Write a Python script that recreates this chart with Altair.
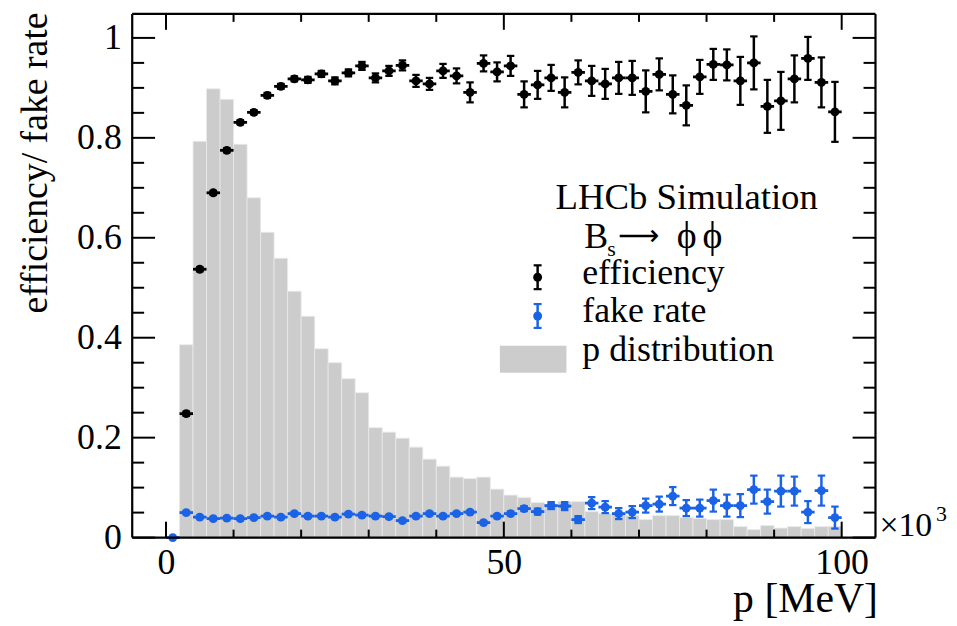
import altair as alt
import pandas as pd

# ---------------- data ----------------
bin_lo = list(range(2, 100, 2))          # histogram bin lower edges (x10^3 MeV), width 2
p_hist = [0.386, 0.793, 0.898, 0.877, 0.787, 0.680, 0.611, 0.559, 0.493, 0.443,
          0.378, 0.350, 0.318, 0.290, 0.220, 0.211, 0.199, 0.181, 0.157, 0.143,
          0.121, 0.118, 0.121, 0.097, 0.085, 0.080, 0.070, 0.065, 0.072, 0.072,
          0.052, 0.048, 0.046, 0.044, 0.036, 0.044, 0.044, 0.040, 0.038, 0.036,
          0.036, 0.022, 0.016, 0.024, 0.019, 0.022, 0.018, 0.022, 0.022]

eff_p = list(range(3, 100, 2))
eff = [0.248, 0.537, 0.690, 0.775, 0.831, 0.851, 0.885, 0.903, 0.918, 0.916,
       0.928, 0.914, 0.930, 0.944, 0.920, 0.934, 0.945, 0.914, 0.908, 0.934,
       0.924, 0.891, 0.949, 0.932, 0.944, 0.887, 0.906, 0.920, 0.891, 0.931,
       0.914, 0.908, 0.920, 0.920, 0.893, 0.927, 0.887, 0.865, 0.922, 0.947,
       0.946, 0.914, 0.950, 0.863, 0.874, 0.918, 0.959, 0.911, 0.852]
eff_err = [0.004, 0.004, 0.004, 0.004, 0.004, 0.004, 0.005, 0.005, 0.005, 0.006,
           0.006, 0.007, 0.007, 0.008, 0.009, 0.010, 0.010, 0.012, 0.012, 0.014,
           0.015, 0.020, 0.016, 0.019, 0.020, 0.026, 0.028, 0.026, 0.030, 0.024,
           0.030, 0.030, 0.032, 0.034, 0.042, 0.032, 0.038, 0.040, 0.034, 0.031,
           0.031, 0.048, 0.053, 0.053, 0.058, 0.047, 0.043, 0.050, 0.060]

fake_p = list(range(1, 100, 2))
fake = [0.0, 0.050, 0.041, 0.038, 0.039, 0.038, 0.040, 0.043, 0.041, 0.048,
        0.043, 0.043, 0.041, 0.047, 0.045, 0.043, 0.042, 0.034, 0.043, 0.048,
        0.043, 0.048, 0.051, 0.030, 0.043, 0.048, 0.058, 0.052, 0.064, 0.063,
        0.036, 0.069, 0.061, 0.048, 0.051, 0.064, 0.067, 0.083, 0.059, 0.059,
        0.074, 0.064, 0.064, 0.096, 0.072, 0.093, 0.093, 0.051, 0.094, 0.040]
fake_err = [0.0, 0.003, 0.003, 0.003, 0.003, 0.003, 0.003, 0.003, 0.003, 0.003,
            0.003, 0.003, 0.003, 0.003, 0.003, 0.003, 0.003, 0.003, 0.003, 0.003,
            0.003, 0.003, 0.003, 0.003, 0.003, 0.004, 0.005, 0.006, 0.007, 0.008,
            0.007, 0.012, 0.012, 0.011, 0.012, 0.014, 0.015, 0.018, 0.016, 0.017,
            0.022, 0.022, 0.023, 0.028, 0.024, 0.031, 0.029, 0.022, 0.030, 0.022]

x_major = [0, 50, 100]
x_minor = [10, 20, 30, 40, 60, 70, 80, 90]
y_major = [0, 0.2, 0.4, 0.6, 0.8, 1.0]
y_minor = [0.05, 0.1, 0.15, 0.25, 0.3, 0.35, 0.45, 0.5, 0.55, 0.65, 0.7, 0.75,
           0.85, 0.9, 0.95]

# ---------------- styling ----------------
W, H = 748, 527
FONT = "Times New Roman, Liberation Serif, DejaVu Serif, serif"
BLUE = "#1a62e6"
GREY = "#cccccc"
HALF = 1.0   # half bin width
CAP = 0.55   # cap half width (data units)
DOT = 80

xs = alt.Scale(domain=[-5, 105], nice=False, zero=False)
ys = alt.Scale(domain=[0, 1.048], nice=False, zero=False)

x_axis = alt.Axis(values=x_major, ticks=False, tickSize=0, domain=False, grid=False,
                  labelFont=FONT, labelFontSize=36, labelColor="black", labelPadding=8,
                  labelFlush=False, labelOverlap=False, format="d",
                  title="p [MeV]", titleFont=FONT, titleFontSize=42,
                  titleFontWeight="normal", titleColor="black", titleAnchor="end",
                  titleAlign="right", titleBaseline="alphabetic", titleX=W + 2, titleY=74)
y_axis = alt.Axis(values=y_major, ticks=False, tickSize=0, domain=False, grid=False,
                  labelFont=FONT, labelFontSize=36, labelColor="black", labelPadding=11,
                  labelFlush=False, labelOverlap=False, format="~g",
                  title="efficiency/ fake rate", titleFont=FONT, titleFontSize=38,
                  titleFontWeight="normal", titleColor="black", titleAnchor="end",
                  titleAngle=-90, titleAlign="right", titleBaseline="alphabetic",
                  titleX=-86, titleY=-2)


def X(f):
    return alt.X(f, type="quantitative", scale=xs, axis=x_axis)


def Y(f):
    return alt.Y(f, type="quantitative", scale=ys, axis=y_axis)


hist_df = pd.DataFrame({"lo": bin_lo, "h": p_hist})
hist_df["hi"] = hist_df["lo"] + 2
hist_df["zero"] = 0.0

eff_df = pd.DataFrame({"p": eff_p, "v": eff, "e": eff_err})
fake_df = pd.DataFrame({"p": fake_p, "v": fake, "e": fake_err})
for d in (eff_df, fake_df):
    d["lo"] = d["v"] - d["e"]
    d["hi"] = d["v"] + d["e"]
    d["pl"] = d["p"] - HALF
    d["pr"] = d["p"] + HALF
    d["cl"] = d["p"] - CAP
    d["cr"] = d["p"] + CAP

hist = alt.Chart(hist_df).mark_rect(color=GREY, stroke="#e9e9e9", strokeWidth=0.8).encode(
    x=X("lo"), x2="hi", y=Y("h"), y2="zero")


def points(df, color):
    c = alt.Chart(df)
    vbar = c.mark_rule(color=color, strokeWidth=2.5).encode(x=X("p"), y=Y("lo"), y2="hi")
    hbar = c.mark_rule(color=color, strokeWidth=2.8).encode(x=X("pl"), x2="pr", y=Y("v"))
    cap1 = c.mark_rule(color=color, strokeWidth=2.2).encode(x=X("cl"), x2="cr", y=Y("lo"))
    cap2 = c.mark_rule(color=color, strokeWidth=2.2).encode(x=X("cl"), x2="cr", y=Y("hi"))
    dot = c.mark_circle(color=color, opacity=1, size=DOT).encode(x=X("p"), y=Y("v"))
    return [vbar, hbar, cap1, cap2, dot]


# inward ticks on all four sides
xmaj = alt.Chart(pd.DataFrame({"v": x_major}))
xmin = alt.Chart(pd.DataFrame({"v": x_minor}))
ymaj = alt.Chart(pd.DataFrame({"v": y_major}))
ymin = alt.Chart(pd.DataFrame({"v": y_minor}))
tk = dict(color="black", strokeWidth=2)
ticks = [
    xmaj.mark_rule(**tk).encode(x=X("v"), y=alt.value(H), y2=alt.value(H - 16)),
    xmin.mark_rule(**tk).encode(x=X("v"), y=alt.value(H), y2=alt.value(H - 8)),
    xmaj.mark_rule(**tk).encode(x=X("v"), y=alt.value(0), y2=alt.value(16)),
    xmin.mark_rule(**tk).encode(x=X("v"), y=alt.value(0), y2=alt.value(8)),
    ymaj.mark_rule(**tk).encode(y=Y("v"), x=alt.value(0), x2=alt.value(23)),
    ymin.mark_rule(**tk).encode(y=Y("v"), x=alt.value(0), x2=alt.value(12)),
    ymaj.mark_rule(**tk).encode(y=Y("v"), x=alt.value(W), x2=alt.value(W - 23)),
    ymin.mark_rule(**tk).encode(y=Y("v"), x=alt.value(W), x2=alt.value(W - 12)),
]

one = alt.Chart(pd.DataFrame({"k": [0]}))
fr = dict(color="black", strokeWidth=2.2)
frame = [
    one.mark_rule(**fr).encode(x=alt.value(0), x2=alt.value(W), y=alt.value(H)),
    one.mark_rule(**fr).encode(x=alt.value(0), x2=alt.value(W), y=alt.value(0)),
    one.mark_rule(**fr).encode(x=alt.value(0), y=alt.value(0), y2=alt.value(H)),
    one.mark_rule(**fr).encode(x=alt.value(W), y=alt.value(0), y2=alt.value(H)),
]


def txt(s, x, y, size=36, color="black", font=FONT):
    return one.mark_text(font=font, fontSize=size, align="left", baseline="alphabetic",
                         color=color).encode(x=alt.value(x), y=alt.value(y), text=alt.value(s))


legend = [
    txt("LHCb Simulation", 426, 196, size=37),
    txt("B", 455, 236),
    txt("s", 478, 244, size=22),
    txt("\u27f6", 489, 233, size=29, font="DejaVu Sans"),
    txt("\u03d5", 548, 236, size=38),
    txt("\u03d5", 574, 236, size=38),
    txt("efficiency", 453, 272),
    txt("fake rate", 453, 310),
    txt("p distribution", 453, 349),
    one.mark_rect(color=GREY).encode(x=alt.value(370), x2=alt.value(437),
                                     y=alt.value(334), y2=alt.value(361)),
]
for yc, col in ((265, "black"), (304, BLUE)):
    legend += [
        one.mark_rule(color=col, strokeWidth=2.5).encode(x=alt.value(408), y=alt.value(yc - 12),
                                                         y2=alt.value(yc + 12)),
        one.mark_rule(color=col, strokeWidth=2.2).encode(x=alt.value(404), x2=alt.value(412),
                                                         y=alt.value(yc - 12)),
        one.mark_rule(color=col, strokeWidth=2.2).encode(x=alt.value(404), x2=alt.value(412),
                                                         y=alt.value(yc + 12)),
        one.mark_circle(color=col, opacity=1, size=DOT).encode(x=alt.value(408), y=alt.value(yc)),
    ]

expo = [txt("\u00d710", 752, 525, size=34), txt("3", 809, 510, size=22)]

layers = [hist] + points(eff_df, "black") + points(fake_df, BLUE) + ticks + frame + legend + expo

chart = alt.layer(*layers).properties(
    width=W, height=H,
    autosize=alt.AutoSizeParams(type="none"),
    padding={"left": 125, "top": 4, "right": 74, "bottom": 84},
).configure_view(stroke=None).configure(background="white")

chart.save("out.html", embed_options={"renderer": "svg", "actions": False})
